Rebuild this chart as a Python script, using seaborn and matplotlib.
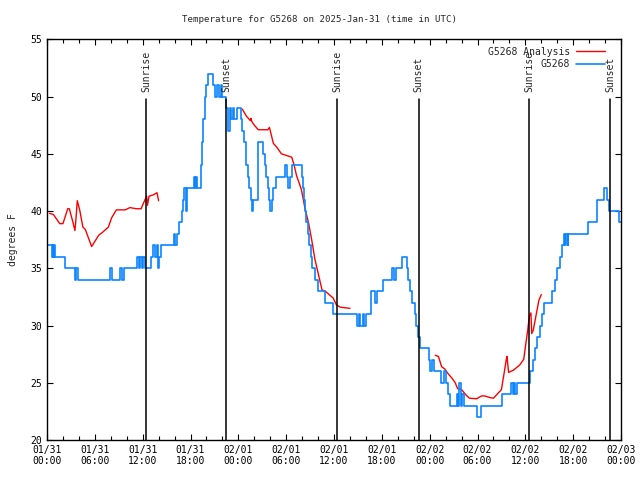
import numpy as np
import pandas as pd
import seaborn as sns
import matplotlib
matplotlib.use("Agg")
import matplotlib.pyplot as plt
import matplotlib.dates as mdates
from matplotlib.lines import Line2D

# datos (horas desde 2025-01-31 00:00 UTC)
start = pd.Timestamp("2025-01-31 00:00")

obs_hours = [0.0, 0.6, 0.7, 0.8, 0.9, 1.0, 2.3, 3.5, 3.6, 3.9, 7.9, 8.1, 9.2, 9.4, 9.6,
             11.3, 11.5, 11.7, 11.9, 12.1, 12.3, 13.1, 13.3, 13.6, 13.8, 13.9, 14.1, 14.3,
             15.9, 16.1, 16.3, 16.6, 16.9, 17.0, 17.2, 17.4, 17.5, 18.4, 18.6, 18.7, 18.8,
             19.3, 19.4, 19.6, 19.8, 20.0, 20.2, 20.8, 21.1, 21.3, 21.6, 21.8, 22.0, 22.5,
             22.7, 22.9, 23.1, 23.3, 23.5, 23.8, 24.3, 24.5, 24.7, 24.9, 25.0, 25.2, 25.4,
             25.6, 25.7, 25.8, 26.5, 27.1, 27.3, 27.5, 27.7, 27.9, 28.0, 28.2, 28.4, 28.7,
             29.8, 30.1, 30.2, 30.5, 30.7, 32.0, 32.1, 32.2, 32.4, 32.5, 32.7, 32.9, 33.1,
             33.3, 33.6, 34.0, 34.9, 35.9, 38.9, 39.1, 39.3, 39.6, 39.8, 40.0, 40.7, 41.2,
             41.4, 42.1, 43.3, 43.5, 43.8, 44.5, 45.1, 45.3, 45.5, 45.8, 46.1, 46.3, 46.5,
             46.8, 47.9, 48.1, 48.3, 48.6, 49.4, 49.8, 50.0, 50.3, 50.5, 51.4, 51.5, 51.7,
             51.9, 52.1, 52.3, 53.9, 54.4, 57.1, 58.2, 58.4, 58.6, 58.7, 58.9, 60.6, 60.9,
             61.2, 61.5, 61.8, 62.1, 62.4, 63.4, 63.7, 64.0, 64.3, 64.6, 64.8, 65.0, 65.1,
             65.3, 65.4, 67.9, 69.0, 69.9, 70.3, 70.5, 71.7, 72.0]
obs_temp = [37, 36, 37, 36, 37, 36, 35, 34, 35, 34, 35, 34, 35, 34, 35,
            36, 35, 36, 35, 36, 35, 36, 37, 36, 37, 35, 36, 37,
            38, 37, 38, 39, 40, 41, 42, 40, 42, 43, 42, 43, 42,
            44, 46, 48, 50, 51, 52, 51, 50, 51, 50, 51, 50, 49,
            47, 49, 48, 49, 48, 49, 48, 47, 46, 45, 44, 43, 42,
            41, 40, 41, 46, 45, 44, 43, 42, 41, 40, 41, 42, 43,
            44, 43, 42, 43, 44, 43, 42, 41, 40, 39, 38, 37, 36,
            35, 34, 33, 32, 31, 30, 31, 30, 31, 30, 31, 33, 32,
            33, 34, 35, 34, 35, 36, 35, 34, 33, 32, 31, 30, 29,
            28, 27, 26, 27, 26, 25, 26, 25, 24, 23, 24, 23, 25,
            23, 24, 23, 22, 23, 24, 25, 24, 25, 24, 25, 26, 27,
            28, 29, 30, 31, 32, 33, 34, 35, 36, 37, 38, 37, 38,
            37, 38, 39, 41, 42, 41, 40, 39, 39]

# analisis (3 tramos)
ana1_hours = [0.3, 0.8, 1.6, 2.0, 2.6, 2.8, 3.3, 3.5, 3.6, 3.8, 4.1, 4.5, 4.8, 5.6, 6.5,
              6.9, 7.7, 8.1, 8.7, 9.8, 10.4, 11.2, 11.8, 12.3, 12.5, 12.6, 12.8, 13.3, 13.8, 14.0]
ana1_temp = [39.8, 39.7, 38.9, 38.9, 40.2, 40.2, 38.9, 38.3, 39.0, 40.9, 40.1, 38.6, 38.4, 36.9, 37.9,
             38.1, 38.6, 39.4, 40.1, 40.1, 40.3, 40.2, 40.2, 41.0, 41.3, 40.5, 41.3, 41.4, 41.6, 40.9]
ana2_hours = [24.5, 25.0, 25.5, 25.6, 25.7, 26.0, 26.5, 27.7, 27.9, 28.4, 28.8, 29.4, 30.7, 31.0,
              31.3, 31.7, 31.9, 32.4, 32.8, 33.2, 33.6, 34.0, 34.5, 34.9, 35.4, 35.9, 36.3, 36.8, 38.0]
ana2_temp = [48.9, 48.3, 47.9, 48.1, 47.8, 47.5, 47.1, 47.1, 47.3, 45.9, 45.6, 45.0, 44.7, 44.0,
             43.1, 42.3, 41.9, 40.1, 39.0, 37.5, 35.8, 34.6, 33.1, 33.0, 32.7, 32.4, 31.8, 31.6, 31.5]
ana3_hours = [48.7, 49.1, 49.5, 49.9, 50.3, 50.8, 51.2, 51.5, 52.0, 52.6, 53.0, 53.9, 54.5, 54.9,
              55.6, 56.0, 56.6, 57.0, 57.4, 57.6, 57.7, 57.9, 58.5, 59.3, 59.8, 60.0, 60.3, 60.5,
              60.7, 60.8, 61.0, 61.4, 61.7, 62.0]
ana3_temp = [27.4, 27.3, 26.4, 26.2, 25.8, 25.4, 25.0, 24.5, 24.4, 23.9, 23.65, 23.6, 23.85, 23.85,
             23.7, 23.65, 24.1, 24.4, 26.1, 27.0, 27.3, 25.9, 26.1, 26.55, 27.05, 28.1, 29.6, 30.8,
             31.1, 29.3, 29.6, 31.1, 32.2, 32.7]

sunrise_hours = [12.45, 36.42, 60.5]
sunset_hours = [22.5, 46.6, 70.68]

obs = pd.DataFrame({"time": start + pd.to_timedelta(obs_hours, unit="h"), "temp": obs_temp})
ana = pd.concat([
    pd.DataFrame({"time": start + pd.to_timedelta(h, unit="h"), "temp": t, "seg": i})
    for i, (h, t) in enumerate([(ana1_hours, ana1_temp), (ana2_hours, ana2_temp), (ana3_hours, ana3_temp)])
])

RED = "#ff0000"
BLUE = "#0a84ff"

sns.set_style("ticks")
plt.rcParams["font.family"] = "DejaVu Sans Mono"

fig = plt.figure(figsize=(6.4, 4.8), dpi=100)
ax = fig.add_axes([47 / 640, 40 / 480, 574 / 640, 400.7 / 480])

sns.lineplot(data=ana, x="time", y="temp", units="seg", estimator=None, color=RED,
             lw=1.0, ax=ax, legend=False)
sns.lineplot(data=obs, x="time", y="temp", color=BLUE, lw=1.2, drawstyle="steps-post",
             ax=ax, legend=False)

# lineas de salida/puesta del sol
for lbl, hours in [("Sunrise", sunrise_hours), ("Sunset", sunset_hours)]:
    for h in hours:
        t = start + pd.Timedelta(hours=h)
        ax.axvline(t, ymin=0, ymax=(49.8 - 20) / 35, color="black", lw=1.1)
        ax.text(t, 50.4, lbl, rotation=90, ha="center", va="bottom", fontsize=7)

ax.set_xlim(start, start + pd.Timedelta(hours=72))
ax.set_ylim(20, 55)
ax.set_yticks(range(20, 56, 5))
ax.xaxis.set_major_locator(mdates.HourLocator(byhour=[0, 6, 12, 18]))
ax.xaxis.set_minor_locator(mdates.HourLocator(interval=2))
ax.xaxis.set_major_formatter(mdates.DateFormatter("%m/%d\n%H:%M"))
ax.tick_params(which="both", direction="in", top=True, right=True, labelsize=7, colors="black")
ax.tick_params(which="major", length=4, width=0.8)
ax.tick_params(which="minor", length=3, width=0.8)
for s in ax.spines.values():
    s.set_color("black")
    s.set_linewidth(1)

ax.set_xlabel("")
ax.set_ylabel("degrees F", fontsize=7, labelpad=9)
fig.text(0.5, 1 - 20 / 480, "Temperature for G5268 on 2025-Jan-31 (time in UTC)",
         ha="center", va="center", fontsize=6.6)

handles = [Line2D([], [], color=RED, lw=1.0), Line2D([], [], color=BLUE, lw=1.2)]
ax.legend(handles, ["G5268 Analysis", "G5268"], loc="upper right", bbox_to_anchor=(0.985, 1.0),
          frameon=False, markerfirst=False, fontsize=7, handlelength=3.0, borderpad=0.25,
          labelspacing=0.25, handletextpad=0.6)

fig.savefig("out.png", dpi=100)
